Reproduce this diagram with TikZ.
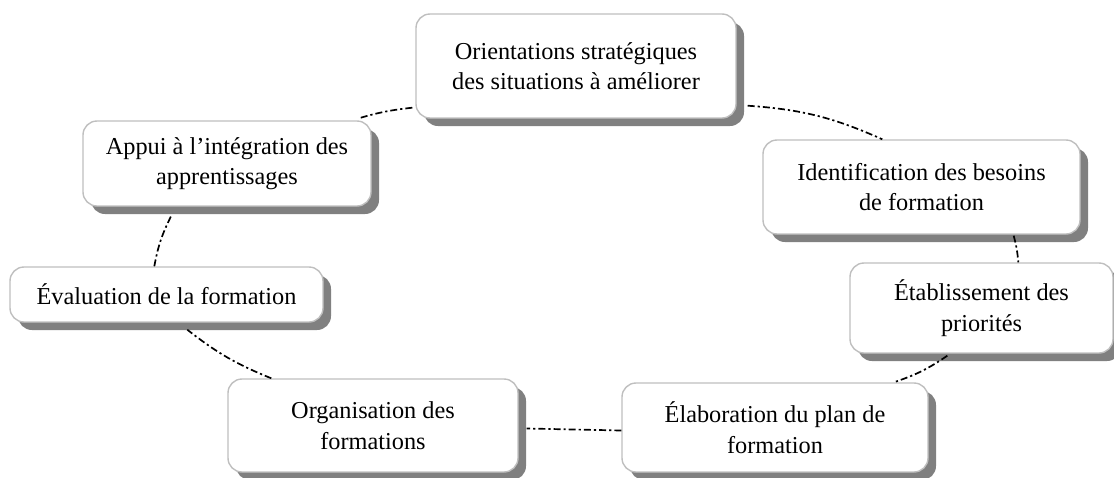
\documentclass[tikz,border=0pt]{standalone}
\usepackage{fontspec}
\setmainfont{Liberation Serif}
\usetikzlibrary{shadows,calc}
\begin{document}
\begin{tikzpicture}[x=1pt,y=-1pt,
  stagebox/.style={draw=black!25, line width=1.4pt, fill=white,
    rounded corners=14pt, align=center, inner sep=0pt,
    font=\fontsize{24.3}{30.5}\selectfont,
    general shadow={fill=black!50, shadow xshift=8pt, shadow yshift=-8pt}},
  link/.style={line width=1.7pt, dash pattern=on 7pt off 3pt on 2.2pt off 3pt}]
\useasboundingbox (0,0) rectangle (1114,477);

% stages of the training cycle
\node[stagebox, minimum width=320pt, minimum height=104pt] (orient) at (576,66)
  {Orientations stratégiques\\des situations à améliorer};
\node[stagebox, minimum width=317pt, minimum height=94pt] (ident) at (921.5,187)
  {Identification des besoins\\de formation};
\node[stagebox, minimum width=263pt, minimum height=90pt] (etabl) at (981.5,308)
  {Établissement des\\priorités};
\node[stagebox, minimum width=306pt, minimum height=89pt] (elab) at (775,427.5)
  {Élaboration du plan de\\formation};
\node[stagebox, minimum width=290pt, minimum height=93pt] (org) at (373,425.5)
  {Organisation des\\formations};
\node[stagebox, minimum width=313pt, minimum height=55pt] (eval) at (166.5,294.5)
  {Évaluation de la formation};
\node[stagebox, minimum width=288pt, minimum height=85pt] (appui) at (227,163.5)
  {Appui à l’intégration des\\apprentissages};

% dash-dotted links around the cycle
\draw[link] ($(orient.south west)+(-3pt,11pt)$) to[bend right=5] ($(appui.north east)+(-13pt,2pt)$);
\draw[link] ($(orient.south east)+(11pt,13pt)$) to[bend left=10] ($(ident.north west)+(120pt,0pt)$);
\draw[link] ($(ident.south east)+(-67pt,-1pt)$) to[bend left=5] ($(etabl.north west)+(169pt,0pt)$);
\draw[link] ($(etabl.south west)+(98pt,-2pt)$) to[bend left=8] ($(elab.north east)+(-35pt,0pt)$);
\draw[link] ($(elab.west)+(0pt,-3pt)$) -- ($(org.east)+(8pt,-3pt)$);
\draw[link] ($(org.north west)+(44pt,0pt)$) to[bend left=8] ($(eval.south west)+(178pt,-7pt)$);
\draw[link] ($(eval.north west)+(145pt,0pt)$) to[bend left=8] ($(appui.south west)+(89pt,-9pt)$);
\end{tikzpicture}
\end{document}
